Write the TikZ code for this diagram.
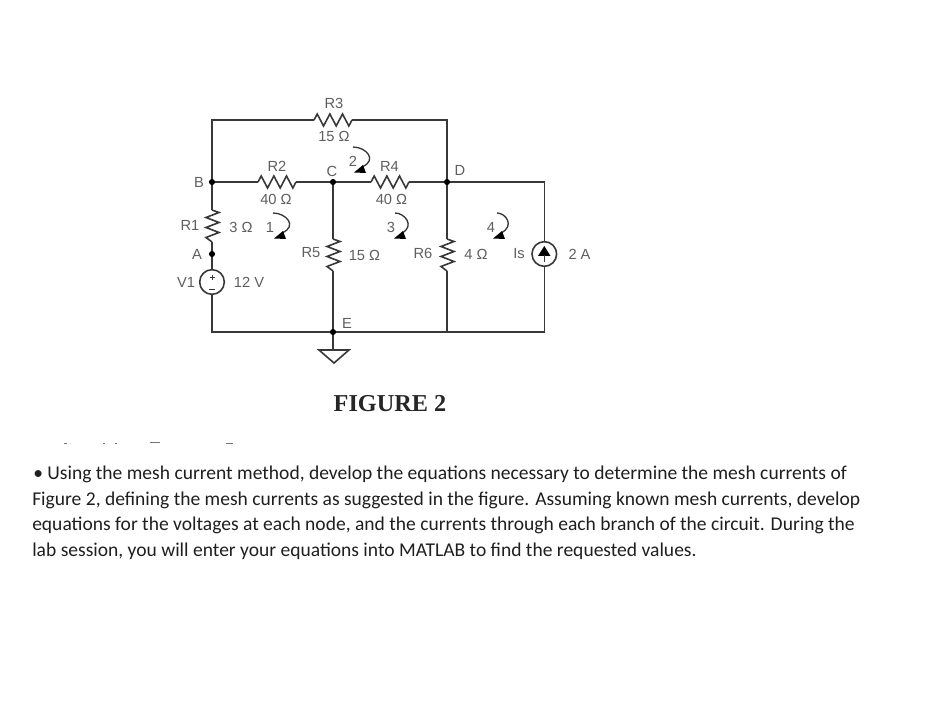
\documentclass[tikz,border=0pt]{standalone}
\usepackage{fontspec}
\setmainfont{Liberation Sans}
\newfontfamily\bodyfont{Carlito}
\newfontfamily\capfont{Liberation Serif}
\usetikzlibrary{arrows.meta}
\definecolor{wirec}{HTML}{383838}
\definecolor{labelc}{HTML}{5F5F5F}
\newcommand{\ResH}[2]{\draw[wire,line join=miter] (#1) -- ++(3.2,-6) -- ++(6.33,12) -- ++(6.33,-12) -- ++(6.33,12) -- ++(6.33,-12) -- ++(6.33,12) -- (#2);}
\newcommand{\ResV}[2]{\draw[wire,line join=miter] (#1) -- ++(7,2.5) -- ++(-13,5) -- ++(13,5) -- ++(-13,5) -- ++(13,5) -- ++(-13,5) -- (#2);}
\newcommand{\Mesh}[4]{\draw[meshl] (#1) .. controls +(#3,0) and +(#4,-7) .. (#2);\fill[black] (#2) ++(1,-2) -- ++(-9,7.5) -- ++(12,0.5) -- cycle;}
\tikzset{
  x=0.75pt,y=-0.75pt,
  wire/.style={draw=wirec,line width=1.2pt},
  meshl/.style={draw=wirec,line width=1pt},
  dot/.style={circle,fill=black,inner sep=0pt,minimum size=4.6pt},
  src/.style={circle,draw=wirec,line width=1.2pt,inner sep=0pt,minimum size=18.5pt},
  lbl/.style={text=labelc,font=\fontsize{11}{12}\selectfont,inner sep=0pt},
  bodyl/.style={anchor=base west,inner sep=0pt,text=black!88,font=\bodyfont\fontsize{14.65}{17}\selectfont},
  figl/.style={text=black!85,inner sep=0pt,font=\capfont\bfseries\fontsize{18.2}{20}\selectfont}
}
\begin{document}
\begin{tikzpicture}
\useasboundingbox (0,0) rectangle (931,702);
\fill[white] (0,0) rectangle (931,702);
% junctions
\node[dot] (B) at (212,182) {};
\node[dot] (C) at (333,182) {};
\node[dot] (D) at (447,182) {};
\node[dot] (A) at (212,254) {};
\node[dot] (E) at (333,332) {};
% corners
\coordinate (TL) at (212,120);
\coordinate (TR) at (447,120);
\coordinate (RT) at (544.3,182);
\coordinate (RB) at (544.3,332);
\coordinate (LB) at (212,332);
\coordinate (DB) at (447,332);
\coordinate (GT) at (333,350);
% resistor terminals
\coordinate (r3a) at (314,120); \coordinate (r3b) at (352,120);
\coordinate (r2a) at (258,182); \coordinate (r2b) at (296,182);
\coordinate (r4a) at (371,182); \coordinate (r4b) at (409,182);
\coordinate (r1a) at (212,210); \coordinate (r1b) at (212,242);
\coordinate (r5a) at (333,239); \coordinate (r5b) at (333,271);
\coordinate (r6a) at (447,239); \coordinate (r6b) at (447,271);
% sources
\node[src] (V1) at (212,282) {};
\node[src] (Is) at (544.3,254) {};
% wires
\draw[wire,line join=miter] (B) -- (TL) -- (r3a);
\draw[wire,line join=miter] (r3b) -- (TR) -- (D);
\draw[wire] (B) -- (r2a);
\draw[wire] (r2b) -- (C);
\draw[wire] (C) -- (r4a);
\draw[wire] (r4b) -- (D);
\draw[wire,line join=miter] (D) -- (RT) -- (Is.north);
\draw[wire,line join=miter] (Is.south) -- (RB) -- (DB);
\draw[wire] (DB) -- (E);
\draw[wire,line join=miter] (E) -- (LB) -- (V1.south);
\draw[wire] (V1.north) -- (A);
\draw[wire] (A) -- (r1b);
\draw[wire] (r1a) -- (B);
\draw[wire] (C) -- (r5a);
\draw[wire] (r5b) -- (E);
\draw[wire] (D) -- (r6a);
\draw[wire] (r6b) -- (DB);
\draw[wire] (E) -- (GT);
% resistors
\ResH{r3a}{r3b}
\ResH{r2a}{r2b}
\ResH{r4a}{r4b}
\ResV{r1a}{r1b}
\ResV{r5a}{r5b}
\ResV{r6a}{r6b}
% ground
\draw[wire,line join=miter] (319,350) -- (349,350) -- (334,363) -- cycle;
% source marks
\draw[wirec,line width=0.6pt] (212,274.5) -- (212,279.5) (209.5,277) -- (214.5,277) (209,289) -- (215,289);
\fill[black] (544.3,246) -- (550.5,256) -- (538,256) -- cycle;
\draw[wire] (544.3,255) -- (544.3,262);
% mesh arrows
\coordinate (m2s) at (353,147); \coordinate (m2e) at (362,167);
\coordinate (m1s) at (273,213); \coordinate (m1e) at (282,233);
\coordinate (m3s) at (395,213); \coordinate (m3e) at (402,233);
\coordinate (m4s) at (497,213); \coordinate (m4e) at (501,233);
\Mesh{m2s}{m2e}{13}{16}
\Mesh{m1s}{m1e}{13}{16}
\Mesh{m3s}{m3e}{10}{13}
\Mesh{m4s}{m4e}{9}{14}
% labels
\node[lbl] at (334,103) {R3};
\node[lbl] at (334,136) {15 Ω};
\node[lbl] at (277,166) {R2};
\node[lbl] at (276,199) {40 Ω};
\node[lbl] at (389.5,166) {R4};
\node[lbl] at (391.5,199) {40 Ω};
\node[lbl] at (199,182) {B};
\node[lbl] at (332,171) {C};
\node[lbl] at (460,170) {D};
\node[lbl] at (190,225) {R1};
\node[lbl] at (241,227) {3 Ω};
\node[lbl] at (270,227) {1};
\node[lbl] at (197,254) {A};
\node[lbl] at (186,282) {V1};
\node[lbl] at (249,282) {12 V};
\node[lbl] at (311,253) {R5};
\node[lbl] at (364.5,255) {15 Ω};
\node[lbl] at (353,161) {2};
\node[lbl] at (391,227) {3};
\node[lbl] at (491,227) {4};
\node[lbl] at (423,253) {R6};
\node[lbl] at (476,254) {4 Ω};
\node[lbl] at (519,254) {Is};
\node[lbl] at (579.5,254) {2 A};
\node[lbl] at (347,323) {E};
\node[figl] (fig) at (390,404) {FIGURE 2};
% clipped residue of a hidden text line
\draw[black!55,line width=0.7pt] (64,443) -- (67,443) (103,443) -- (105,443) (115,443) -- (117,443) (150,442) -- (160,442) (226,443) -- (233,443);
% body text
\node[bodyl] (t1) at (33,479) {• Using the mesh current method, develop the equations necessary to determine the mesh currents of};
\node[bodyl] (t2) at (32,505) {Figure 2, defining the mesh currents as suggested in the figure. Assuming known mesh currents, develop};
\node[bodyl] (t3) at (32,530) {equations for the voltages at each node, and the currents through each branch of the circuit. During the};
\node[bodyl] (t4) at (32,556) {lab session, you will enter your equations into MATLAB to find the requested values.};
\end{tikzpicture}
\end{document}
